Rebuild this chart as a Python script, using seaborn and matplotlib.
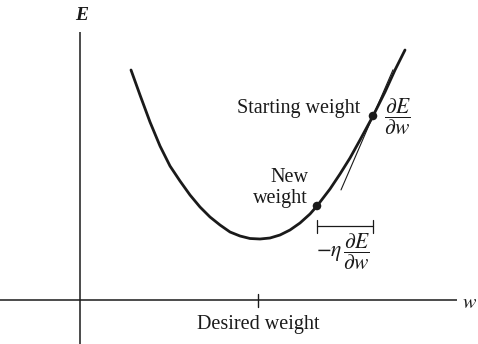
import matplotlib
matplotlib.use("Agg")
import matplotlib.pyplot as plt
import seaborn as sns
import pandas as pd
import numpy as np

# Error surface E(w) sampled along the weight axis
weight = [51, 60, 70, 80, 90, 100, 110, 120, 130, 140, 150, 160, 170, 180,
          190, 200, 210, 220, 230, 237, 250, 260, 270, 280, 293, 305, 315, 325]
error = [230, 205, 178, 154, 134, 119, 105, 93, 83, 75, 68, 64, 61.5, 61,
         62, 65, 70, 77, 86, 94, 111, 126, 142, 160, 184, 208, 230, 250]

desired_weight = 178
start_weight, start_error = 293, 184
new_weight, new_error = 237, 94
start_gradient = 2.31          # dE/dw at the starting weight
tangent_span = (-32, 20)       # extent of the tangent line around the start

curve = pd.DataFrame({"w": weight, "E": error})
points = pd.DataFrame({"w": [start_weight, new_weight],
                       "E": [start_error, new_error]})

sns.set_theme(style="white")
plt.rcParams["font.family"] = ["Liberation Serif", "DejaVu Serif"]
plt.rcParams["mathtext.fontset"] = "stix"

fig = plt.figure(figsize=(4.78, 3.44), dpi=100)
ax = fig.add_axes([0, 0, 1, 1])
ax.set_xlim(-80, 398)
ax.set_ylim(-44, 300)
ax.axis("off")

ink = "#1a1a1a"

# coordinate axes
ax.plot([-80, 377], [0, 0], color=ink, lw=1.1, solid_capstyle="butt")
ax.plot([0, 0], [-44, 268], color=ink, lw=1.1, solid_capstyle="butt")
ax.plot([desired_weight, desired_weight], [-6.5, 6.5], color=ink, lw=1.0)

# error curve
sns.lineplot(data=curve, x="w", y="E", ax=ax, color=ink, lw=2.0,
             sort=False, estimator=None)

# tangent at the starting weight
tw = np.array([start_weight + tangent_span[0], start_weight + tangent_span[1]])
tE = start_error + start_gradient * (tw - start_weight)
ax.plot(tw, tE, color=ink, lw=0.8)

# weight positions
sns.scatterplot(data=points, x="w", y="E", ax=ax, color=ink, s=38,
                edgecolor="none", zorder=5)

# step bracket between new and starting weight
by = 74
ax.plot([new_weight, start_weight], [by, by], color=ink, lw=0.9)
for bx in (new_weight, start_weight):
    ax.plot([bx, bx], [by - 6.5, by + 6.5], color=ink, lw=0.9)

fs = 14.5
ax.text(2, 284, "E", fontsize=fs - 0.5, style="italic", weight="bold",
        ha="center", va="center", color=ink)
ax.text(382, -3, r"$w$", fontsize=fs, ha="left", va="center", color=ink)
ax.text(desired_weight, -24, "Desired weight", fontsize=fs,
        ha="center", va="center", color=ink)
ax.text(280, 192, "Starting weight", fontsize=fs,
        ha="right", va="center", color=ink)
ax.text(317, 183, r"$\dfrac{\partial E}{\partial w}$", fontsize=15.5,
        ha="center", va="center", color=ink)
ax.text(228, 112, "New\nweight", fontsize=fs, ha="right", va="center",
        linespacing=1.2, color=ink)
ax.text(263, 48, r"$-\eta\,\dfrac{\partial E}{\partial w}$", fontsize=15.5,
        ha="center", va="center", color=ink)

fig.savefig("out.png", dpi=100, facecolor="white")
